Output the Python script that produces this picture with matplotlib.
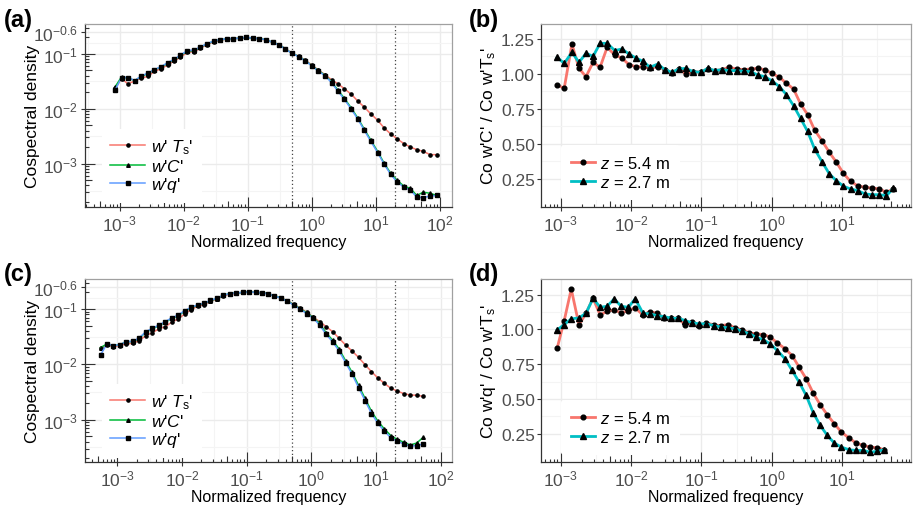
import numpy as np
import matplotlib
matplotlib.use("Agg")
import matplotlib.pyplot as plt

plt.rcParams['font.family'] = ['Liberation Sans', 'DejaVu Sans']
plt.rcParams['mathtext.fontset'] = 'custom'
plt.rcParams['mathtext.rm'] = 'Liberation Sans'
plt.rcParams['mathtext.it'] = 'Liberation Sans:italic'
plt.rcParams['mathtext.bf'] = 'Liberation Sans:bold'

# ---------------- data ----------------
# (a) cospectra, log10 of normalized frequency and log10 of cospectral density
logf_a = [-3.07, -2.97, -2.87, -2.76, -2.66, -2.56, -2.46, -2.35, -2.25, -2.15,
          -2.05, -1.94, -1.84, -1.74, -1.64, -1.53, -1.43, -1.33, -1.23, -1.12,
          -1.02, -0.92, -0.82, -0.72, -0.61, -0.51, -0.41, -0.31, -0.20, -0.10,
          0.00, 0.10, 0.21, 0.31, 0.41, 0.51, 0.62, 0.72, 0.82, 0.92,
          1.03, 1.13, 1.23, 1.33, 1.44, 1.54, 1.64, 1.74, 1.85, 1.95]
wT_a = [-1.63, -1.45, -1.545, -1.49, -1.44, -1.41, -1.32, -1.27, -1.20, -1.13,
        -1.06, -0.97, -0.96, -0.90, -0.83, -0.78, -0.75, -0.73, -0.722, -0.716,
        -0.70, -0.715, -0.722, -0.745, -0.79, -0.83, -0.905, -0.985, -1.045, -1.115,
        -1.20, -1.29, -1.38, -1.473, -1.545, -1.636, -1.739, -1.86, -1.97, -2.09,
        -2.21, -2.35, -2.455, -2.545, -2.636, -2.697, -2.745, -2.776, -2.836, -2.836]
wC_a = [-1.60, -1.42, -1.44, -1.485, -1.41, -1.36, -1.29, -1.24, -1.17, -1.11,
        -1.03, -0.95, -0.94, -0.88, -0.82, -0.77, -0.745, -0.727, -0.721, -0.715,
        -0.697, -0.715, -0.721, -0.74, -0.788, -0.83, -0.909, -0.988, -1.048, -1.121,
        -1.212, -1.30, -1.39, -1.51, -1.66, -1.81, -1.99, -2.17, -2.37, -2.565,
        -2.78, -2.99, -3.17, -3.30, -3.41, -3.45, -3.58, -3.52, -3.54, -3.58]
wq_a = [-1.66, -1.43, -1.43, -1.485, -1.40, -1.35, -1.29, -1.23, -1.16, -1.10,
        -1.02, -0.94, -0.93, -0.875, -0.815, -0.765, -0.74, -0.725, -0.72, -0.714,
        -0.697, -0.715, -0.721, -0.74, -0.79, -0.835, -0.912, -0.99, -1.052, -1.126,
        -1.218, -1.31, -1.40, -1.525, -1.68, -1.83, -2.01, -2.19, -2.39, -2.59,
        -2.80, -3.01, -3.19, -3.33, -3.43, -3.48, -3.61, -3.62, -3.59, -3.58]

# (b) ratio Co w'C' / Co w'Ts'
logf_b = [-3.05, -2.95, -2.84, -2.74, -2.64, -2.54, -2.44, -2.34, -2.23, -2.13,
          -2.03, -1.93, -1.83, -1.73, -1.62, -1.52, -1.42, -1.32, -1.22, -1.12,
          -1.01, -0.91, -0.81, -0.71, -0.61, -0.50, -0.40, -0.30, -0.20, -0.10,
          0.00, 0.11, 0.21, 0.31, 0.41, 0.51, 0.61, 0.72, 0.82, 0.92,
          1.02, 1.12, 1.22, 1.33, 1.43, 1.53, 1.63, 1.73]
ratio_b_54 = [0.921, 0.898, 1.214, 1.040, 0.981, 1.083, 1.048, 1.19, 1.136, 1.114,
              1.067, 1.052, 1.052, 1.04, 1.052, 1.031, 1.005, 1.036, 1.0, 1.017,
              1.012, 1.036, 1.024, 1.031, 1.048, 1.036, 1.031, 1.036, 1.040, 1.031,
              1.005, 0.976, 0.933, 0.893, 0.786, 0.710, 0.600, 0.519, 0.440, 0.369,
              0.290, 0.233, 0.202, 0.190, 0.186, 0.179, 0.155, 0.179]
ratio_b_27 = [1.119, 1.076, 1.155, 1.083, 1.148, 1.126, 1.219, 1.219, 1.167, 1.179,
              1.143, 1.114, 1.09, 1.048, 1.071, 1.031, 1.012, 1.036, 1.040, 1.017,
              1.012, 1.04, 1.024, 1.031, 1.024, 1.024, 1.019, 1.017, 0.993, 0.981,
              0.952, 0.910, 0.852, 0.774, 0.683, 0.590, 0.464, 0.369, 0.286, 0.238,
              0.198, 0.179, 0.167, 0.143, 0.138, 0.138, 0.131, 0.183]

# (c) cospectra, second dataset
logf_c = [-3.26, -3.16, -3.06, -2.96, -2.86, -2.76, -2.66, -2.56, -2.46, -2.36,
          -2.26, -2.16, -2.06, -1.96, -1.86, -1.76, -1.66, -1.56, -1.46, -1.36,
          -1.26, -1.16, -1.06, -0.96, -0.86, -0.76, -0.67, -0.57, -0.47, -0.37,
          -0.27, -0.17, -0.07, 0.03, 0.13, 0.23, 0.33, 0.43, 0.53, 0.63,
          0.73, 0.83, 0.93, 1.03, 1.13, 1.23, 1.33, 1.43, 1.53, 1.63, 1.73]
wT_c = [-1.70, -1.65, -1.68, -1.66, -1.63, -1.62, -1.57, -1.48, -1.43, -1.36,
        -1.32, -1.24, -1.18, -1.09, -1.01, -0.95, -0.92, -0.86, -0.82, -0.76,
        -0.73, -0.715, -0.70, -0.69, -0.70, -0.706, -0.72, -0.757, -0.80, -0.85,
        -0.915, -0.985, -1.06, -1.15, -1.229, -1.32, -1.41, -1.53, -1.651, -1.76,
        -1.874, -2.007, -2.133, -2.248, -2.344, -2.435, -2.483, -2.531, -2.555, -2.56, -2.58]
wC_c = [-1.70, -1.63, -1.66, -1.645, -1.59, -1.59, -1.53, -1.42, -1.36, -1.30,
        -1.24, -1.17, -1.12, -1.04, -0.98, -0.93, -0.90, -0.85, -0.81, -0.75,
        -0.72, -0.71, -0.70, -0.69, -0.70, -0.705, -0.723, -0.759, -0.80, -0.855,
        -0.92, -0.994, -1.072, -1.15, -1.27, -1.43, -1.565, -1.725, -1.935, -2.145,
        -2.38, -2.615, -2.85, -3.03, -3.17, -3.29, -3.36, -3.41, -3.46, -3.423, -3.32]
wq_c = [-1.83, -1.63, -1.66, -1.645, -1.59, -1.585, -1.52, -1.41, -1.35, -1.29,
        -1.23, -1.16, -1.11, -1.03, -0.97, -0.925, -0.895, -0.845, -0.805, -0.75,
        -0.72, -0.71, -0.70, -0.69, -0.70, -0.705, -0.726, -0.762, -0.805, -0.86,
        -0.93, -1.005, -1.085, -1.165, -1.295, -1.46, -1.595, -1.76, -1.97, -2.18,
        -2.42, -2.655, -2.89, -3.07, -3.21, -3.33, -3.39, -3.44, -3.48, -3.47, -3.44]

# (d) ratio Co w'q' / Co w'Ts'
logf_d = [-3.05, -2.95, -2.85, -2.74, -2.64, -2.54, -2.44, -2.34, -2.24, -2.14,
          -2.04, -1.94, -1.83, -1.73, -1.63, -1.53, -1.43, -1.33, -1.23, -1.13,
          -1.03, -0.93, -0.82, -0.72, -0.62, -0.52, -0.42, -0.32, -0.22, -0.12,
          -0.02, 0.08, 0.19, 0.29, 0.39, 0.49, 0.59, 0.69, 0.79, 0.89,
          0.99, 1.10, 1.20, 1.30, 1.40, 1.50, 1.60]
ratio_d_54 = [0.865, 1.063, 1.29, 1.032, 1.116, 1.224, 1.104, 1.13, 1.14, 1.118,
              1.135, 1.154, 1.104, 1.128, 1.116, 1.083, 1.08, 1.08, 1.032, 1.051,
              1.027, 1.047, 1.032, 1.027, 1.035, 1.011, 0.996, 0.975, 0.968, 0.963,
              0.944, 0.903, 0.86, 0.812, 0.728, 0.645, 0.542, 0.458, 0.386, 0.322,
              0.262, 0.219, 0.183, 0.166, 0.154, 0.150, 0.135]
ratio_d_27 = [0.996, 1.035, 1.075, 1.083, 1.116, 1.224, 1.159, 1.166, 1.219, 1.166,
              1.159, 1.219, 1.116, 1.111, 1.099, 1.092, 1.08, 1.08, 1.063, 1.047,
              1.04, 1.04, 1.027, 1.016, 1.011, 1.004, 0.987, 0.968, 0.944, 0.925,
              0.896, 0.848, 0.788, 0.705, 0.621, 0.525, 0.401, 0.31, 0.238, 0.183,
              0.154, 0.135, 0.130, 0.130, 0.118, 0.123, 0.135]

cosp_labels = [r"$w$' $T_{\rm s}$'", r"$w$'$C$'", r"$w$'$q$'"]
height_labels = [r"$z$ = 5.4 m", r"$z$ = 2.7 m"]
log_ticks = [1e-3, 1e-2, 1e-1, 1e0, 1e1, 1e2]
log_ticklabels = [r'$10^{-3}$', r'$10^{-2}$', r'$10^{-1}$', r'$10^{0}$', r'$10^{1}$', r'$10^{2}$']
cosp_yticks = [1e-3, 1e-2, 1e-1, 10 ** -0.6]
cosp_yticklabels = [r'$10^{-3}$', r'$10^{-2}$', r'$10^{-1}$', r'$10^{-0.6}$']
ratio_yticks = [0.25, 0.5, 0.75, 1.0, 1.25]
ratio_yticklabels = ['0.25', '0.50', '0.75', '1.00', '1.25']
cutoffs = [0.5, 20]

RED = '#F8766D'
GREEN = '#00BA38'
BLUE = '#619CFF'
CYAN = '#00BFC4'
GRID = '#EBEBEB'
TICK = '#333333'
TXT = '#4D4D4D'

W, H = 913, 510


def logticks(ax, axis, lim, size_px):
    # ggplot style annotation_logticks drawn inside the panel
    lo, hi = np.log10(lim)
    for k in range(int(np.floor(lo)), int(np.ceil(hi)) + 1):
        for m in range(1, 10):
            v = m * 10.0 ** k
            if v < lim[0] or v > lim[1]:
                continue
            ln = 10.0 if m == 1 else (6.5 if m == 5 else 3.5)
            frac = ln / size_px
            if axis == 'x':
                ax.plot([v, v], [0, frac], transform=ax.get_xaxis_transform(),
                        color=TICK, lw=0.8, solid_capstyle='butt', zorder=4)
            else:
                ax.plot([0, frac], [v, v], transform=ax.get_yaxis_transform(),
                        color=TICK, lw=0.8, solid_capstyle='butt', zorder=4)


def base_axes(rect_px, xlim, ylim, logy):
    x0, y0, w, h = rect_px
    ax = fig.add_axes([x0 / W, 1 - (y0 + h) / H, w / W, h / H])
    ax.set_xscale('log')
    if logy:
        ax.set_yscale('log')
    ax.set_xticks([t for t in log_ticks if xlim[0] <= t <= xlim[1]])
    ax.set_xticklabels([l for t, l in zip(log_ticks, log_ticklabels) if xlim[0] <= t <= xlim[1]])
    ax.set_xticks([10 ** (k + 0.5) for k in range(-4, 3) if xlim[0] <= 10 ** (k + 0.5) <= xlim[1]], minor=True)
    ax.grid(True, which='major', color=GRID, lw=1.0, zorder=0)
    ax.grid(True, which='minor', color='#F4F4F4', lw=0.8, zorder=0)
    ax.set_axisbelow(True)
    ax.tick_params(which='major', direction='out', length=3, width=0.8, color=TICK,
                   labelcolor=TXT, labelsize=12.5, pad=2)
    ax.tick_params(which='minor', length=0)
    for s in ['top', 'right']:
        ax.spines[s].set_color('#A0A0A0')
        ax.spines[s].set_linewidth(0.9)
    for s in ['left', 'bottom']:
        ax.spines[s].set_color(TICK)
        ax.spines[s].set_linewidth(0.9)
    logticks(ax, 'x', xlim, h)
    if logy:
        logticks(ax, 'y', ylim, w)
    ax.set_xlim(xlim)
    ax.set_ylim(ylim)
    ax.set_xlabel('Normalized frequency', fontsize=11.5)
    ax.xaxis.set_label_coords(0.5, -0.15)
    ax.xaxis.label.set_va('top')
    return ax


def cospectra(rect_px, logf, series, xlim, ylim):
    ax = base_axes(rect_px, xlim, ylim, True)
    f = 10 ** np.array(logf)
    colors = [RED, GREEN, BLUE]
    markers = ['o', '^', 's']
    sizes = [2.3, 2.6, 2.2]
    for vals, c, mk, ms, lab in zip(series, colors, markers, sizes, cosp_labels):
        ax.plot(f, 10 ** np.array(vals), color=c, lw=1.1, marker=mk, ms=ms,
                mfc='black', mec='black', label=lab, zorder=3)
    for v in cutoffs:
        ax.axvline(v, color='#444444', ls=(0, (1, 2)), lw=0.9, zorder=2)
    ax.set_yticks(cosp_yticks)
    ax.set_yticklabels(cosp_yticklabels)
    ax.set_yticks([10 ** -3.5, 10 ** -2.5, 10 ** -1.5, 10 ** -0.8], minor=True)
    ax.set_ylabel('Cospectral density', fontsize=12.5)
    ax.yaxis.set_label_coords(-0.123, 0.5)
    leg = ax.legend(loc='center left', bbox_to_anchor=(0.045, 0.225), frameon=True,
                    fontsize=12.5, handlelength=2.0, handletextpad=0.35,
                    labelspacing=0.1, borderpad=0.5, borderaxespad=0)
    leg.get_frame().set_facecolor('white')
    leg.get_frame().set_edgecolor('none')
    leg.get_frame().set_alpha(1)
    ax.set_xlim(xlim)
    ax.set_ylim(ylim)
    return ax


def ratios(rect_px, logf, r54, r27, ylabel, xlim, ylim):
    ax = base_axes(rect_px, xlim, ylim, False)
    f = np.array(10 ** np.array(logf))
    ax.plot(f, r54, color=RED, lw=2.0, marker='o', ms=3.4, mfc='black', mec='black',
            label=height_labels[0], zorder=3)
    ax.plot(f, r27, color=CYAN, lw=2.0, marker='^', ms=3.8, mfc='black', mec='black',
            label=height_labels[1], zorder=3)
    ax.set_yticks(ratio_yticks)
    ax.set_yticklabels(ratio_yticklabels)
    ax.set_yticks([0.375, 0.625, 0.875, 1.125], minor=True)
    ax.tick_params(axis='y', which='major', pad=1.5)
    ax.set_ylabel(ylabel, fontsize=12.5)
    ax.yaxis.set_label_coords(-0.116, 0.5)
    leg = ax.legend(loc='center left', bbox_to_anchor=(0.055, 0.19), frameon=True,
                    fontsize=12, handlelength=1.4, handletextpad=0.3,
                    labelspacing=0.2, borderpad=0.6, borderaxespad=0)
    leg.get_frame().set_facecolor('white')
    leg.get_frame().set_edgecolor('none')
    leg.get_frame().set_alpha(1)
    ax.set_xlim(xlim)
    ax.set_ylim(ylim)
    return ax


fig = plt.figure(figsize=(9.13, 5.10), dpi=100)

cospectra((85, 25, 367, 183), logf_a, [wT_a, wC_a, wq_a],
          (10 ** -3.54, 10 ** 2.19), (10 ** -3.79, 10 ** -0.455))
ratios((541, 25, 370, 183), logf_b, ratio_b_54, ratio_b_27,
       r"Co w'C' / Co w'T$_{\rm s}$'", (10 ** -3.28, 10 ** 1.98), (0.05, 1.357))
cospectra((85, 280, 367, 183), logf_c, [wT_c, wC_c, wq_c],
          (10 ** -3.5, 10 ** 2.175), (10 ** -3.767, 10 ** -0.457))
ratios((541, 280, 370, 183), logf_d, ratio_d_54, ratio_d_27,
       r"Co w'q' / Co w'T$_{\rm s}$'", (10 ** -3.28, 10 ** 1.98), (0.047, 1.362))

for lab, x, y in [('(a)', 4, 20), ('(b)', 469, 20), ('(c)', 4, 275), ('(d)', 469, 275)]:
    fig.text(x / W, 1 - y / H, lab, fontsize=17, fontweight='bold', ha='left', va='center')

fig.savefig('out.png', dpi=100)
